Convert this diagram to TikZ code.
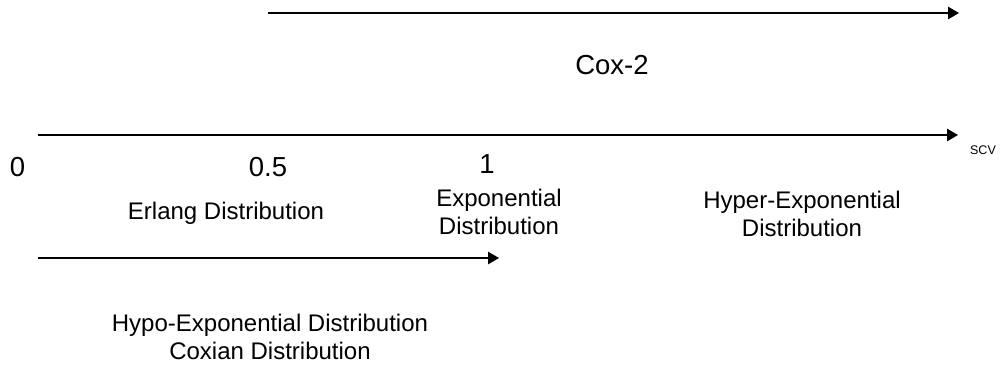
\documentclass[tikz,border=0pt]{standalone}
\usepackage{fontspec}
\setmainfont{Liberation Sans}
\usetikzlibrary{arrows.meta}
\begin{document}
\begin{tikzpicture}[x=1pt,y=-1pt,
  axis/.style={line width=1.3pt,-{Triangle[length=11pt,width=12.5pt]}},
  big/.style={font=\fontsize{27.5}{33}\selectfont,inner sep=0pt},
  lbl/.style={font=\fontsize{24}{28.5}\selectfont,align=center,inner sep=0pt},
  tiny/.style={font=\fontsize{12.5}{15}\selectfont,inner sep=0pt}]
\useasboundingbox (0,0) rectangle (1007,365);

% axes
\coordinate (coxL) at (268,13);
\coordinate (coxR) at (959,13);
\coordinate (scvL) at (38,135);
\coordinate (scvR) at (958,135);
\coordinate (hypoL) at (38,258);
\coordinate (hypoR) at (499,258);
\draw[axis] (coxL) -- (coxR);
\draw[axis] (scvL) -- (scvR);
\draw[axis] (hypoL) -- (hypoR);

% labels
\node[big] (cox) at (612,65) {Cox-2};
\node[tiny] (scv) at (983,150) {SCV};
\node[big] (zero) at (17.5,167) {0};
\node[big] (half) at (268,167) {0.5};
\node[big] (one) at (487,164) {1};
\node[lbl] (erl) at (226,213) {Erlang Distribution};
\node[lbl] (expo) at (499,212) {Exponential\\Distribution};
\node[lbl] (hyper) at (802,214) {Hyper-Exponential\\Distribution};
\node[lbl] (hypo) at (270,337) {Hypo-Exponential Distribution\\Coxian Distribution};
\end{tikzpicture}
\end{document}
